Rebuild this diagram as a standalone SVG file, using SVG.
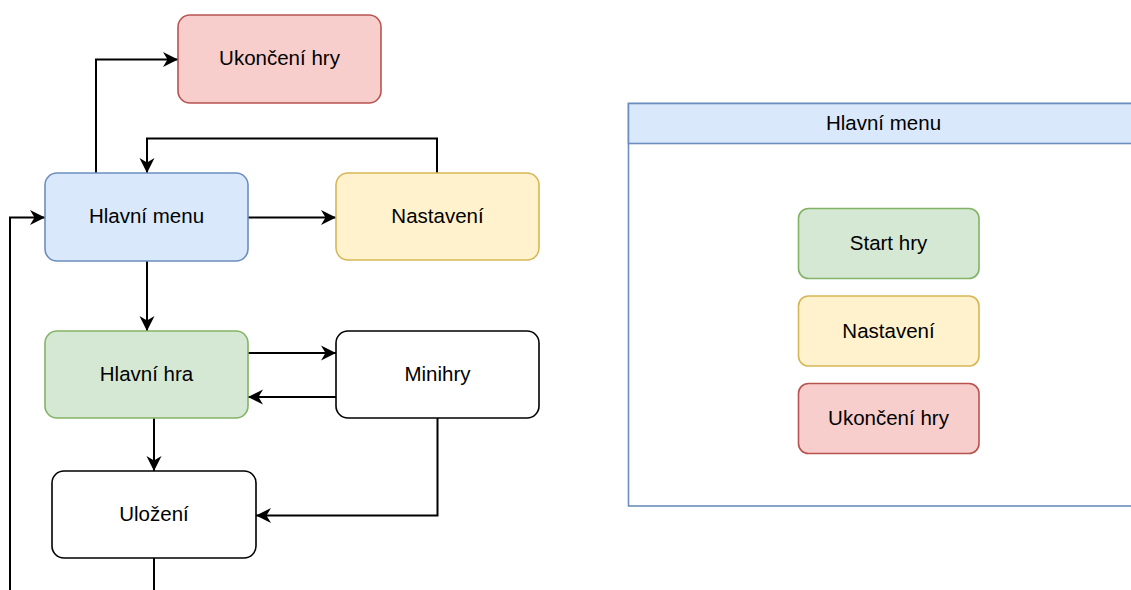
<svg xmlns="http://www.w3.org/2000/svg" width="1131" height="590" viewBox="0 0 1131 590">
  <style>
    .box { stroke-width: 1.6; }
    .red { fill: #f8cecc; stroke: #b85450; }
    .blue { fill: #dae8fc; stroke: #6c8ebf; }
    .yellow { fill: #fff2cc; stroke: #d6b656; }
    .green { fill: #d5e8d4; stroke: #82b366; }
    .plain { fill: #ffffff; stroke: #000000; }
    .label { font-family: "Liberation Sans", Arial, sans-serif; font-size: 20.5px; fill: #000000; text-anchor: middle; }
    .edge { fill: none; stroke: #000000; stroke-width: 2; marker-end: url(#arrow); }
    .edge-plain { fill: none; stroke: #000000; stroke-width: 2; }
  </style>
  <defs>
    <marker id="arrow" markerUnits="userSpaceOnUse" markerWidth="18" markerHeight="18" viewBox="-16 -9 18 18" refX="0" refY="0" orient="auto">
      <path d="M0 0 L-15 -7.5 L-10.5 0 L-15 7.5 Z" fill="#000000"/>
    </marker>
  </defs>
  <rect width="1131" height="590" fill="#ffffff"/>

  <!-- flow connectors -->
  <g id="connectors">
    <path class="edge" d="M96 173 V59.5 H178"/>
    <path class="edge" d="M437 173 V138.5 H147 V173"/>
    <path class="edge" d="M248 217.5 H336"/>
    <path class="edge" d="M147 261 V331"/>
    <path class="edge" d="M248 353 H336"/>
    <path class="edge" d="M336 397 H248"/>
    <path class="edge" d="M154 418 V471"/>
    <path class="edge" d="M437.5 418 V515.5 H256"/>
    <path class="edge-plain" d="M154 558 V592"/>
    <path class="edge" d="M10 592 V217.5 H45"/>
  </g>

  <!-- flow nodes -->
  <g id="ukonceni">
    <rect class="box red" x="178" y="15" width="203" height="88" rx="12"/>
    <text class="label" x="279.5" y="65">Ukončení hry</text>
  </g>
  <g id="hlavni-menu">
    <rect class="box blue" x="45" y="173" width="203" height="88" rx="12"/>
    <text class="label" x="146.5" y="223">Hlavní menu</text>
  </g>
  <g id="nastaveni">
    <rect class="box yellow" x="336" y="173" width="203" height="87" rx="12"/>
    <text class="label" x="437.5" y="223">Nastavení</text>
  </g>
  <g id="hlavni-hra">
    <rect class="box green" x="45" y="331" width="203" height="87" rx="12"/>
    <text class="label" x="146.5" y="381">Hlavní hra</text>
  </g>
  <g id="minihry">
    <rect class="box plain" x="336" y="331" width="203" height="87" rx="12"/>
    <text class="label" x="437.5" y="381">Minihry</text>
  </g>
  <g id="ulozeni">
    <rect class="box plain" x="52" y="471" width="204" height="87" rx="12"/>
    <text class="label" x="154" y="521">Uložení</text>
  </g>

  <!-- menu screen panel -->
  <g id="menu-panel">
    <rect class="box" x="628.5" y="103.5" width="512" height="402.5" fill="#ffffff" stroke="#6c8ebf"/>
    <rect class="box blue" x="628.5" y="103.5" width="512" height="40"/>
    <text class="label" x="883.5" y="130">Hlavní menu</text>
  </g>
  <g id="menu-start">
    <rect class="box green" x="798.5" y="208.5" width="180.5" height="70" rx="10"/>
    <text class="label" x="888.5" y="250">Start hry</text>
  </g>
  <g id="menu-nastaveni">
    <rect class="box yellow" x="798.5" y="296" width="180.5" height="70" rx="10"/>
    <text class="label" x="888.5" y="337.5">Nastavení</text>
  </g>
  <g id="menu-ukonceni">
    <rect class="box red" x="798.5" y="383.5" width="180.5" height="70" rx="10"/>
    <text class="label" x="888.5" y="425">Ukončení hry</text>
  </g>
</svg>
